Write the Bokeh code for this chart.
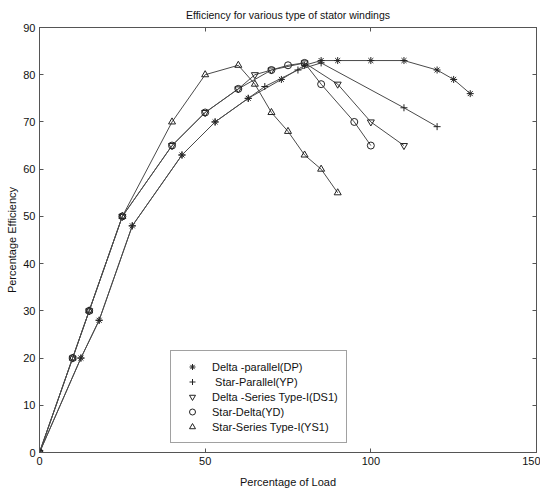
from bokeh.plotting import figure
from bokeh.models import (LinearAxis, Range1d, Legend, LegendItem)
from bokeh.embed import file_html
from bokeh.resources import INLINE

# ---- data ----
dp_load = [0, 12.5, 18, 28, 43, 53, 63, 73, 80, 85, 90, 100, 110, 120, 125, 130]
dp_eff  = [0, 20, 28, 48, 63, 70, 75, 79, 82, 83, 83, 83, 83, 81, 79, 76]

yp_load = [0, 12.5, 18, 28, 43, 53, 63, 68, 78, 85, 110, 120]
yp_eff  = [0, 20, 28, 48, 63, 70, 75, 77.5, 81, 82.5, 73, 69]

ds1_load = [0, 10, 15, 25, 40, 50, 60, 65, 70, 80, 90, 100, 110]
ds1_eff  = [0, 20, 30, 50, 65, 72, 77, 80, 81, 82.5, 78, 70, 65]

yd_load = [0, 10, 15, 25, 40, 50, 60, 70, 75, 80, 85, 95, 100]
yd_eff  = [0, 20, 30, 50, 65, 72, 77, 81, 82, 82.5, 78, 70, 65]

ys1_load = [0, 10, 15, 25, 40, 50, 60, 65, 70, 75, 80, 85, 90]
ys1_eff  = [0, 20, 30, 50, 70, 80, 82, 78, 72, 68, 63, 60, 55]

labels = ["Delta -parallel(DP)", " Star-Parallel(YP)", "Delta -Series Type-I(DS1)",
          "Star-Delta(YD)", "Star-Series Type-I(YS1)"]
markers = ["asterisk", "cross", "inverted_triangle", "circle", "triangle"]

x_ticks = [0, 50, 100, 150]
y_ticks = [0, 10, 20, 30, 40, 50, 60, 70, 80, 90]

FONT = "Liberation Sans"
LINE = "#4a4a4a"
MK = "#222222"

p = figure(frame_width=497, frame_height=425, output_backend="svg", toolbar_location=None,
           x_range=Range1d(0, 150), y_range=Range1d(0, 90),
           min_border_left=39, min_border_right=4, min_border_top=0, min_border_bottom=36)
p.title.text = "Efficiency for various type of stator windings"
p.title.align = "center"
p.title.text_font = FONT
p.title.text_font_size = "10.5px"
p.title.text_font_style = "normal"
p.title.text_color = "#111111"
p.title.standoff = 13
p.title.offset = 0

p.xgrid.visible = False
p.ygrid.visible = False
p.outline_line_color = "#555555"

def style(ax):
    ax.major_tick_in = 4
    ax.major_tick_out = 0
    ax.minor_tick_in = 0
    ax.minor_tick_out = 0
    ax.axis_line_color = "#555555"
    ax.major_tick_line_color = "#555555"
    ax.major_label_text_font = FONT
    ax.major_label_text_font_size = "11px"
    ax.major_label_text_color = "#111111"
    ax.axis_label_text_font = FONT
    ax.axis_label_text_font_size = "11px"
    ax.axis_label_text_font_style = "normal"
    ax.axis_label_text_color = "#111111"

p.xaxis.ticker = x_ticks
p.yaxis.ticker = y_ticks
p.xaxis.axis_label = "Percentage of Load"
p.yaxis.axis_label = "Percentage Efficiency"
style(p.xaxis[0]); style(p.yaxis[0])
p.xaxis.major_label_standoff = 4
p.xaxis.axis_label_standoff = 8
p.yaxis.major_label_standoff = 4
p.yaxis.axis_label_standoff = 2

top = LinearAxis(ticker=x_ticks, major_label_overrides={t: "" for t in x_ticks})
right = LinearAxis(ticker=y_ticks, major_label_overrides={t: "" for t in y_ticks})
for ax in (top, right):
    style(ax)
    ax.major_label_standoff = 0
p.add_layout(top, "above")
p.add_layout(right, "right")

series = [(dp_load, dp_eff), (yp_load, yp_eff), (ds1_load, ds1_eff),
          (yd_load, yd_eff), (ys1_load, ys1_eff)]
items = []
for (xs, ys), lab, mk in zip(series, labels, markers):
    p.line(xs, ys, line_color=LINE, line_width=1)
    r = p.scatter(xs, ys, marker=mk, size=7, line_color=MK, fill_color=None, line_width=1)
    items.append(LegendItem(label=lab, renderers=[r]))

legend = Legend(items=items, location=(131, 9), orientation="vertical",
                border_line_color="#444444", background_fill_color="white",
                label_text_font=FONT, label_text_font_size="11px", label_text_color="#111111",
                padding=8, spacing=0, glyph_width=26, glyph_height=15, label_height=15,
                label_standoff=7, margin=0)
p.add_layout(legend, "center")

open("out.html", "w").write(file_html(p, INLINE))
